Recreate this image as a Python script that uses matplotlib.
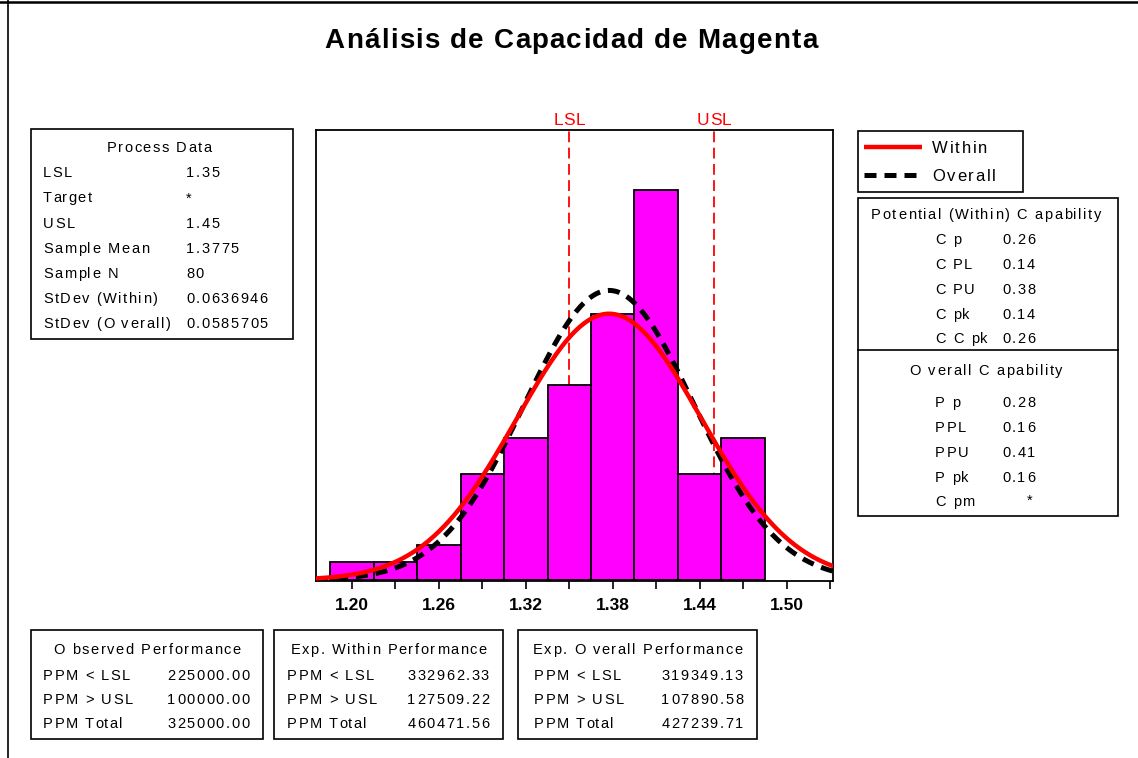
import numpy as np
import matplotlib
matplotlib.use('Agg')
import matplotlib.pyplot as plt
from matplotlib.patches import Rectangle
from matplotlib.textpath import TextToPath
from matplotlib.font_manager import FontProperties

plt.rcParams['font.family'] = ['Liberation Sans', 'DejaVu Sans']

# data
bin_centers = [1.20, 1.23, 1.26, 1.29, 1.32, 1.35, 1.38, 1.41, 1.44, 1.47]
counts = [1, 1, 2, 6, 8, 11, 15, 22, 6, 8]
bin_width = 0.03
lsl = 1.35
usl = 1.45
mean = 1.3775
n = 80
sd_within = 0.0636946
sd_overall = 0.0585705
tick_vals = [1.20, 1.26, 1.32, 1.38, 1.44, 1.50]
tick_labels = ['1.20', '1.26', '1.32', '1.38', '1.44', '1.50']

process_labels = ['LSL', 'Target', 'USL', 'Sample Mean', 'Sample N', 'StDev (Within)', 'StDev (O verall)']
process_values = ['1.35', '*', '1.45', '1.3775', '80', '0.0636946', '0.0585705']

within_labels = ['C p', 'C PL', 'C PU', 'C pk', 'C C pk']
within_values = ['0.26', '0.14', '0.38', '0.14', '0.26']
overall_labels = ['P p', 'PPL', 'PPU', 'P pk', 'C pm']
overall_values = ['0.28', '0.16', '0.41', '0.16', '*']

perf_rows = ['PPM < LSL', 'PPM > USL', 'PPM Total']
obs_perf = ['225000.00', '100000.00', '325000.00']
within_perf = ['332962.33', '127509.22', '460471.56']
overall_perf = ['319349.13', '107890.58', '427239.71']

W, H = 1138, 758
fig = plt.figure(figsize=(W / 100, H / 100), dpi=100)

# overlay in pixel coords for the text panels
bg = fig.add_axes([0, 0, 1, 1])
bg.set_xlim(0, W)
bg.set_ylim(H, 0)
bg.axis('off')

ttp = TextToPath()


def adv(s, prop):
    # advance width in pixels (dpi 100), bar trick keeps trailing spaces
    w = ttp.get_text_width_height_descent(s + '|', prop, ismath=False)[0]
    w0 = ttp.get_text_width_height_descent('|', prop, ismath=False)[0]
    return (w - w0) * 100 / 72


def tracked(x, y, s, size=10.5, track=1.6, ha='left', color='black', weight='normal', base=False):
    # minitab style letter spaced text, y is the vertical centre of the caps
    prop = FontProperties(family='Liberation Sans', size=size, weight=weight)
    total = adv(s, prop) + (len(s) - 1) * track
    if ha == 'center':
        x = x - total / 2
    elif ha == 'right':
        x = x - total
    yb = y if base else y + 0.716 * size * 100 / 72 / 2
    for i, ch in enumerate(s):
        if ch == ' ':
            continue
        bg.text(x + adv(s[:i], prop) + i * track, yb, ch, fontsize=size, color=color,
                fontweight=weight, va='baseline', ha='left')


bg.plot([0, W], [1.5, 1.5], color='black', lw=1.8)
bg.plot([8.5, 8.5], [0, H], color='black', lw=1.2)

tracked(571, 48.5, 'Análisis de Capacidad de Magenta', size=20, track=1.2, ha='center',
        weight='bold', base=True)

fs = 10.5
tr = 1.6


def box(x0, y0, x1, y1):
    bg.add_patch(Rectangle((x0, y0), x1 - x0, y1 - y0, fill=False, ec='black', lw=1.2))


# process data
box(31, 129, 293, 339)
tracked(159, 147, 'Process Data', fs, tr, ha='center')
for i, (lab, val) in enumerate(zip(process_labels, process_values)):
    y = 172 + i * 25.2
    tracked(43, y, lab, fs, tr)
    tracked(186, y, val, fs, tr)

# legend
box(858, 131, 1023, 192)
bg.plot([864, 922], [147, 147], color='red', lw=3.2, solid_capstyle='butt')
bg.plot([864, 922], [175, 175], color='black', lw=3.6, dashes=[2.4, 1.6], dash_capstyle='butt')
tracked(932, 147, 'Within', 12, 1.8)
tracked(932, 175, 'Overall', 12, 1.8)

# capability
box(858, 198, 1118, 516)
bg.plot([858, 1118], [350, 350], color='black', lw=1.2)
tracked(986, 214, 'Potential (Within) C apability', fs, tr, ha='center')
for i, (lab, val) in enumerate(zip(within_labels, within_values)):
    y = 239 + i * 24.8
    tracked(935, y, lab, fs, tr)
    tracked(1002, y, val, fs, tr)
tracked(986, 370, 'O verall C apability', fs, tr, ha='center')
for i, (lab, val) in enumerate(zip(overall_labels, overall_values)):
    y = 402 + i * 24.8
    tracked(935, y, lab, fs, tr)
    if val == '*':
        tracked(1030, y - 2, val, fs, tr, ha='center')
    else:
        tracked(1002, y, val, fs, tr)

# performance boxes
panels = [
    (31, 263, 'O bserved Performance', obs_perf, 43),
    (274, 503, 'Exp. Within Performance', within_perf, 287),
    (518, 757, 'Exp. O verall Performance', overall_perf, 534),
]
for x0, x1, title, vals, lx in panels:
    box(x0, 630, x1, 739)
    tracked((x0 + x1) / 2, 649, title, fs, tr, ha='center')
    for i, (lab, val) in enumerate(zip(perf_rows, vals)):
        y = 675 + i * 24
        tracked(lx, y, lab, fs, tr)
        tracked(x1 - 14, y, val, fs, tr, ha='right')

# main histogram
ax = fig.add_axes([316 / W, 1 - 581 / H, 517 / W, 451 / H])
xmin = 1.1752
xmax = xmin + 517 / 1449
ax.set_xlim(xmin, xmax)
ax.set_ylim(-0.05, 25.4)

ax.axvline(lsl, color='red', lw=1.3, dashes=[6, 3], zorder=1)
ax.axvline(usl, color='red', lw=1.3, dashes=[6, 3], zorder=1)
ax.bar(bin_centers, counts, width=bin_width, color='#ff00ff', edgecolor='black', lw=1.3, zorder=2)

xs = np.linspace(xmin, xmax, 400)
scale = n * bin_width
y_within = scale * np.exp(-0.5 * ((xs - mean) / sd_within) ** 2) / (sd_within * np.sqrt(2 * np.pi))
y_overall = scale * np.exp(-0.5 * ((xs - mean) / sd_overall) ** 2) / (sd_overall * np.sqrt(2 * np.pi))
ax.plot(xs, y_overall, color='black', lw=3.6, dashes=[2.4, 1.6], zorder=3)
ax.plot(xs, y_within, color='red', lw=3.2, zorder=4)

ax.set_xticks(tick_vals)
ax.set_xticklabels(tick_labels, fontsize=12.5, fontweight='bold')
ax.set_xticks([v + 0.03 for v in [1.17] + tick_vals if xmin < v + 0.03 < xmax], minor=True)
ax.tick_params(axis='x', which='both', direction='out', length=6, width=1.2, pad=6)
ax.set_yticks([])
for s in ax.spines.values():
    s.set_linewidth(1.3)

for val, lab in [(lsl, 'LSL'), (usl, 'USL')]:
    xp = ax.transData.transform((val, 0))[0]
    tracked(xp, 125, lab, 12.5, 0.5, ha='center', color='red', base=True)

fig.savefig('out.png', dpi=100)
